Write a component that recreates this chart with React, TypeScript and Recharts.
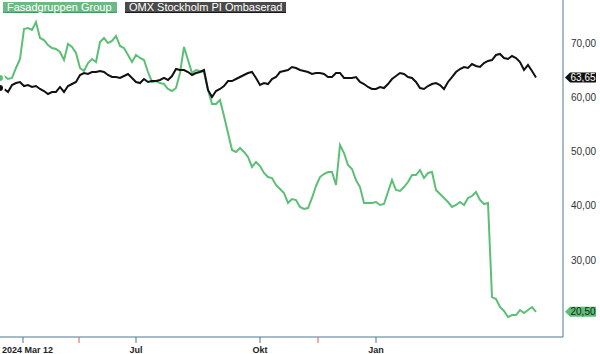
import React from 'react';
import { LineChart, Line, XAxis, YAxis, ReferenceDot } from 'recharts';

// Fasadgruppen Group (SEK), sampled evenly from 2024-03-12 onward
const fasadgruppen = [
  63.56, 63.92, 63.37, 63.56, 65.40, 67.05, 72.58, 72.76, 72.40, 73.87,
  70.92, 70.55, 69.63, 69.08, 68.90, 68.34, 66.87, 69.82, 69.26, 68.16,
  65.40, 64.84, 66.32, 67.05, 66.50, 70.19, 70.92, 70.00, 70.37, 71.29,
  69.45, 69.08, 67.79, 66.50, 67.79, 67.24, 66.87, 64.66, 62.82, 63.00,
  62.63, 62.45, 61.53, 61.16, 61.71, 64.48, 69.26, 66.87, 64.48, 65.03,
  64.84, 64.66, 61.35, 58.77, 58.77, 59.50, 56.56, 53.43, 50.30, 49.93,
  50.66, 49.93, 49.01, 47.17, 48.09, 47.35, 46.06, 45.32, 45.14, 43.85,
  43.11, 42.38, 40.54, 41.27, 41.09, 39.80, 39.43, 39.61, 41.46, 43.67,
  45.32, 45.88, 46.24, 46.24, 43.85, 51.22, 49.74, 47.53, 46.80, 44.77,
  43.48, 40.54, 40.54, 40.54, 40.72, 40.17, 40.35, 42.56, 44.77, 42.93,
  42.75, 43.48, 44.40, 45.69, 45.69, 46.61, 45.14, 46.06, 46.24, 42.93,
  42.19, 41.46, 40.72, 39.80, 40.17, 40.72, 40.17, 41.46, 41.82, 42.56,
  41.09, 40.35, 40.54, 23.22, 22.86, 21.38, 20.65, 19.54, 19.91, 19.91,
  20.83, 20.28, 20.83, 21.38, 20.50,
];

// OMX Stockholm PI, rebased to Fasadgruppen's start
const omxPi = [
  61.71, 61.53, 60.98, 62.27, 62.63, 62.82, 62.08, 62.27, 61.90, 62.08,
  61.53, 61.16, 60.61, 60.98, 60.98, 61.90, 60.98, 62.08, 62.45, 62.82,
  64.11, 64.48, 64.29, 64.66, 64.66, 64.84, 64.66, 64.11, 63.74, 63.74,
  63.56, 63.92, 64.29, 63.56, 62.82, 62.63, 63.37, 62.82, 63.00, 63.00,
  63.19, 63.56, 63.19, 63.92, 65.21, 65.03, 65.03, 64.66, 64.11, 64.48,
  64.66, 65.03, 61.35, 60.06, 61.16, 61.53, 62.08, 63.00, 63.00, 63.37,
  63.74, 64.11, 64.48, 64.66, 63.56, 62.27, 62.63, 62.45, 63.37, 63.74,
  64.66, 64.84, 65.03, 65.58, 65.40, 65.03, 64.84, 64.66, 64.29, 64.48,
  64.48, 64.29, 63.74, 63.74, 64.48, 64.48, 63.56, 63.56, 63.56, 63.74,
  62.82, 62.45, 61.90, 61.53, 61.53, 61.90, 61.71, 62.45, 63.37, 63.92,
  64.48, 64.29, 63.74, 63.56, 62.82, 61.71, 61.53, 62.08, 62.45, 62.63,
  62.27, 61.53, 62.82, 63.74, 64.66, 65.21, 65.58, 65.40, 66.13, 65.77,
  65.58, 66.32, 66.69, 66.87, 67.79, 67.98, 67.24, 67.05, 67.61, 67.24,
  66.50, 65.03, 65.95, 64.84, 63.65,
];

const xTickValues = [5.75, 19.75, 34, 65, 79.5, 94];
const xTickLabels = ['2024 Mar 12', '', 'Jul', 'Okt', '', 'Jan'];
const xTickIsEvent = [false, true, false, false, true, false];
const yTicks = [30, 40, 50, 60, 70];
const X_MAX = 140.75;
const Y_DOMAIN: [number, number] = [15.86, 77.92];

const GREEN = '#5cbf76';
const BLACK = '#111111';
const AXIS = '#4f7890';
const FONT = '"Liberation Sans", Arial, sans-serif';

const data = fasadgruppen.map((v, i) => ({ i, fasad: v, omx: omxPi[i] }));

const fmt = (v: number) => v.toFixed(2).replace('.', ',');

const XTick = (props: any) => {
  const { x, y, payload, index } = props;
  const idx = xTickValues.indexOf(payload.value);
  const label = xTickLabels[idx] ?? '';
  const isEvent = xTickIsEvent[idx];
  return (
    <g>
      <line x1={x} x2={x} y1={y - 6} y2={y} stroke={isEvent ? '#e05a5a' : AXIS} strokeWidth={1} />
      {label && (
        <text
          x={idx === 0 ? x - 21 : x}
          y={y + 10}
          textAnchor={idx === 0 ? 'start' : 'middle'}
          fontSize={9}
          fontWeight="bold"
          fontFamily={FONT}
          fill="#222"
        >
          {label}
        </text>
      )}
    </g>
  );
};

const YTick = (props: any) => {
  const { x, y, payload } = props;
  return (
    <text x={x} y={y + 3.5} textAnchor="start" fontSize={10} fontFamily={FONT} fill="#333">
      {fmt(payload.value)}
    </text>
  );
};

const Badge = ({ cx, cy, bg, color, value }: any) => {
  const tip = cx + 2;
  const h = 5;
  return (
    <g>
      <polygon
        points={`${tip},${cy} ${tip + 5},${cy - h} ${tip + 31},${cy - h} ${tip + 31},${cy + h} ${tip + 5},${cy + h}`}
        fill={bg}
      />
      <text x={tip + 18} y={cy + 3.5} textAnchor="middle" fontSize={10} fontFamily={FONT} fill={color}>
        {fmt(value)}
      </text>
    </g>
  );
};

const legendBox = (bg: string, border: string, left: number, width: number): React.CSSProperties => ({
  position: 'absolute',
  top: 2,
  left,
  width,
  height: 11,
  background: bg,
  borderBottom: `1px solid ${border}`,
  color: '#fff',
  fontFamily: FONT,
  fontSize: 11,
  lineHeight: '11px',
  paddingLeft: 4,
  boxSizing: 'border-box',
  whiteSpace: 'nowrap',
});

export default function App() {
  const lastF = fasadgruppen[fasadgruppen.length - 1];
  const lastO = omxPi[omxPi.length - 1];
  return (
    <div style={{ position: 'absolute', left: 0, top: 0, width: 600, height: 354, background: '#fff' }}>
      <LineChart width={600} height={354} data={data} margin={{ top: 0, right: 0, bottom: 0, left: 0 }}>
        <XAxis
          dataKey="i"
          type="number"
          domain={[0, X_MAX]}
          ticks={xTickValues}
          interval={0}
          height={17}
          tickLine={false}
          tickSize={6}
          tickMargin={0}
          axisLine={{ stroke: AXIS }}
          tick={<XTick />}
          allowDataOverflow
        />
        <YAxis
          orientation="right"
          domain={Y_DOMAIN}
          ticks={yTicks}
          width={37}
          tickLine={false}
          tickSize={6}
          tickMargin={2}
          axisLine={{ stroke: AXIS }}
          tick={<YTick />}
          allowDataOverflow
        />
        <Line dataKey="fasad" stroke={GREEN} strokeWidth={2} dot={false} isAnimationActive={false} />
        <Line dataKey="omx" stroke={BLACK} strokeWidth={2} dot={false} isAnimationActive={false} />
        <ReferenceDot
          x={X_MAX}
          y={lastO}
          r={0}
          ifOverflow="visible"
          shape={(p: any) => <Badge cx={p.cx} cy={p.cy} bg="#111" color="#fff" value={lastO} />}
        />
        <ReferenceDot
          x={X_MAX}
          y={lastF}
          r={0}
          ifOverflow="visible"
          shape={(p: any) => <Badge cx={p.cx} cy={p.cy} bg={GREEN} color="#222" value={lastF} />}
        />
      </LineChart>
      <div style={legendBox('#6cb985', '#3f9a5c', 3, 114)}>Fasadgruppen Group</div>
      <div style={legendBox('#4a4a4a', '#1a1a1a', 125, 161)}>OMX Stockholm PI Ombaserad</div>
    </div>
  );
}
